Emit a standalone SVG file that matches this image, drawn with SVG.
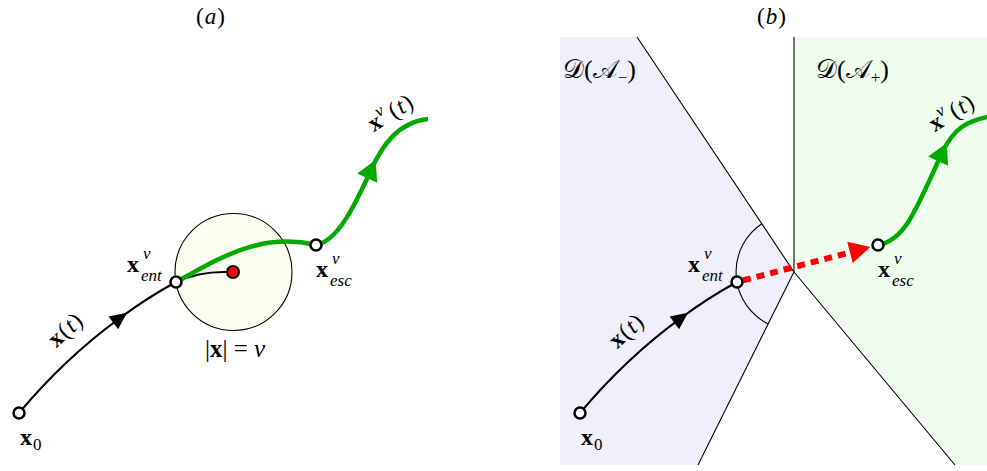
<svg xmlns="http://www.w3.org/2000/svg" width="987" height="471" viewBox="0 0 987 471">
<defs>
<style>
text{font-family:"Liberation Serif","DejaVu Serif",serif;fill:#000}
.b{font-weight:bold}
.i{font-style:italic}
.m{font-size:24px}
.s{font-size:17px}
.node{fill:#fff;stroke:#000;stroke-width:2.5}
.traj{fill:none;stroke:#000;stroke-width:2}
.green{fill:none;stroke:#00aa00;stroke-width:4.5}
.edge{fill:none;stroke:#000;stroke-width:1.1}
.red{fill:none;stroke:#ff0000;stroke-width:6;stroke-dasharray:8 6}
</style>
<marker id="ab" markerUnits="userSpaceOnUse" orient="auto" markerWidth="30" markerHeight="30" viewBox="-15 -15 30 30" refX="0" refY="0" overflow="visible"><path d="M9,0 L-8,-8 L-8,8 z" fill="#000"/></marker>
<marker id="ag" markerUnits="userSpaceOnUse" orient="auto" markerWidth="30" markerHeight="30" viewBox="-15 -15 30 30" refX="0" refY="0" overflow="visible"><path d="M11,0 L-9,-11 L-9,11 z" fill="#00aa00"/></marker>
<marker id="ar" markerUnits="userSpaceOnUse" orient="auto" markerWidth="30" markerHeight="30" viewBox="-15 -15 30 30" refX="0" refY="0" overflow="visible"><path d="M21,0 L0,-11 L0,11 z" fill="#ff0000"/></marker>
</defs>
<rect width="987" height="471" fill="#fff"/>

<g id="regions">
<polygon points="560,37 637,37 794,272 698,465 560,465" fill="#f0f0fc"/>
<polygon points="794,37 987,37 987,465 955,465 794,272" fill="#effdef"/>
<g class="edge">
<line x1="637" y1="37" x2="794" y2="272"/>
<line x1="794" y1="37" x2="794" y2="272"/>
<line x1="794" y1="272" x2="698" y2="465"/>
<line x1="794" y1="272" x2="955" y2="465"/>
<path d="M761.8,223.8 A58,58 0 0 0 768.2,323.9"/>
</g>
</g>

<g id="ball">
<circle cx="233.5" cy="272" r="58.5" fill="#fdfdef" stroke="#000" stroke-width="1.1"/>
</g>

<g id="connectors">
<path class="traj" d="M19,413 C44.2,382.9 78.7,348.1 119.8,318.1 C137.4,305 156.2,292.8 176,282" marker-mid="url(#ab)"/>
<path class="traj" d="M176,282 Q200,271 228,272"/>
<path class="green" d="M176,282 C220,258 260,232 316,245"/>
<path class="green" d="M316,245 C338,241 355,205 371,170 C382,146 398,122 428,119" marker-mid="url(#ag)"/>
<path class="traj" transform="translate(561,0)" d="M19,413 C44.2,382.9 78.7,348.1 119.8,318.1 C137.4,305 156.2,292.8 176,282" marker-mid="url(#ab)"/>
<path class="red" d="M743,280.4 L850,252.4" marker-end="url(#ar)"/>
<path class="green" d="M878,245 C905,240 915,212 942,153 C954,128 966,121 992,116" marker-mid="url(#ag)"/>
</g>

<g id="a-x0"><circle class="node" cx="19" cy="413" r="5.5"/></g>
<g id="a-origin"><circle cx="233" cy="272" r="6" fill="#ff0000" stroke="#000" stroke-width="2"/></g>
<g id="a-ent"><circle class="node" cx="176" cy="282" r="5.5"/></g>
<g id="a-esc"><circle class="node" cx="316" cy="245" r="5.5"/></g>
<g id="b-x0"><circle class="node" cx="580" cy="413" r="5.5"/></g>
<g id="b-ent"><circle class="node" cx="737" cy="282" r="5.5"/></g>
<g id="b-esc"><circle class="node" cx="878" cy="245" r="5.5"/></g>

<g id="labels">
<text x="211" y="24" text-anchor="middle" font-size="23" letter-spacing="1">(<tspan class="i">a</tspan>)</text>
<text x="772" y="24" text-anchor="middle" font-size="23" letter-spacing="1">(<tspan class="i">b</tspan>)</text>

<text x="20" y="445" class="m b">x</text><text x="33" y="450" font-size="17">0</text>
<text x="127" y="272" class="m b">x</text><text x="143" y="259" class="s i">ν</text><text x="141" y="281" class="s i">ent</text>
<text x="316" y="277" class="m b">x</text><text x="332" y="264" class="s i">ν</text><text x="330" y="286" class="s i">esc</text>
<text x="235" y="357" text-anchor="middle" font-size="25">|<tspan class="b">x</tspan>| = <tspan class="i">ν</tspan></text>
<g transform="translate(66,330) rotate(-42)"><text x="0" y="7" text-anchor="middle" class="m" letter-spacing="1"><tspan class="b">x</tspan>(<tspan class="i">t</tspan>)</text></g>
<g transform="translate(393,112) rotate(-32)"><text x="-27" y="7" class="m b">x</text><text x="-15" y="-3" class="s i">ν</text><text x="-3" y="7" class="m" letter-spacing="1">(<tspan class="i">t</tspan>)</text></g>

<text x="581" y="445" class="m b">x</text><text x="594" y="450" font-size="17">0</text>
<text x="688" y="272" class="m b">x</text><text x="704" y="259" class="s i">ν</text><text x="702" y="281" class="s i">ent</text>
<text x="878" y="277" class="m b">x</text><text x="894" y="264" class="s i">ν</text><text x="892" y="286" class="s i">esc</text>
<g transform="translate(627,331) rotate(-42)"><text x="0" y="7" text-anchor="middle" class="m" letter-spacing="1"><tspan class="b">x</tspan>(<tspan class="i">t</tspan>)</text></g>
<g transform="translate(954,112) rotate(-32)"><text x="-27" y="7" class="m b">x</text><text x="-15" y="-3" class="s i">ν</text><text x="-3" y="7" class="m" letter-spacing="1">(<tspan class="i">t</tspan>)</text></g>

<text x="563" y="78" font-size="26">𝒟(𝒜<tspan font-size="17" dy="5">−</tspan><tspan dy="-5">)</tspan></text>
<text x="816" y="78" font-size="26">𝒟(𝒜<tspan font-size="17" dy="5">+</tspan><tspan dy="-5">)</tspan></text>
</g>
</svg>
